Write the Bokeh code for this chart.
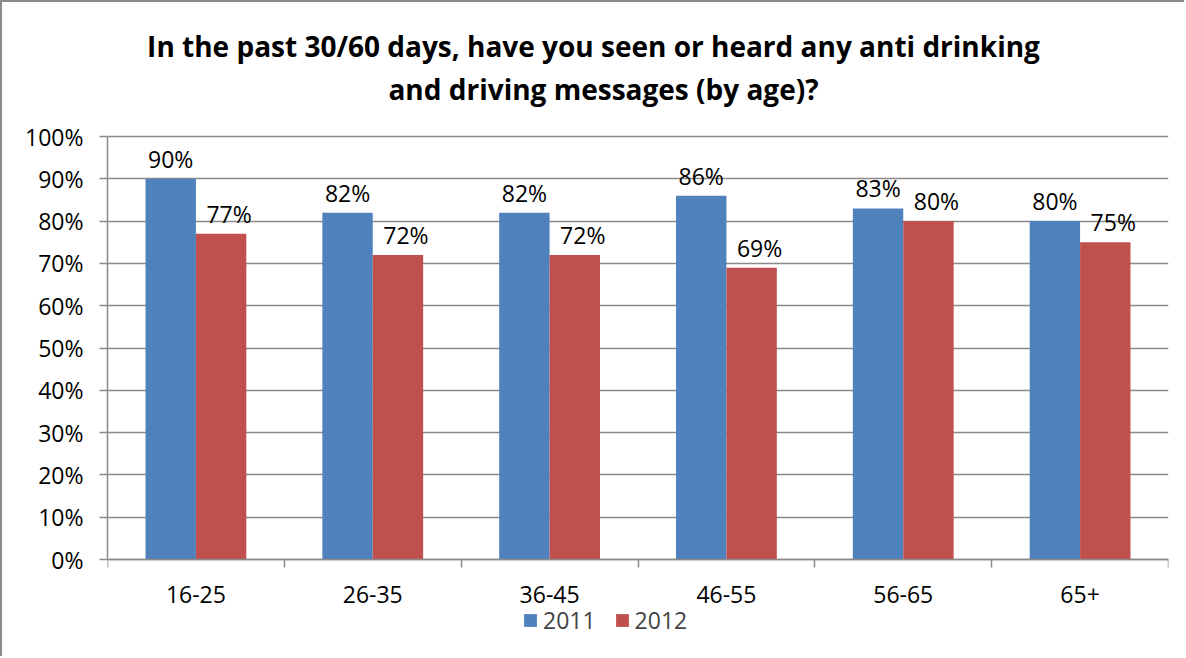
import numpy as np
from bokeh.plotting import figure
from bokeh.models import (FixedTicker, NumeralTickFormatter, Legend, LegendItem,
                          ColumnDataSource, Range1d, Label)
from bokeh.core.properties import value
from bokeh.embed import file_html
from bokeh.resources import INLINE

# ---- data ----
categories = ["16-25", "26-35", "36-45", "46-55", "56-65", "65+"]
series_names = ["2011", "2012"]
values_2011 = [0.90, 0.82, 0.82, 0.86, 0.83, 0.80]
values_2012 = [0.77, 0.72, 0.72, 0.69, 0.80, 0.75]
y_ticks = [0.0, 0.1, 0.2, 0.3, 0.4, 0.5, 0.6, 0.7, 0.8, 0.9, 1.0]
title_line1 = "In the past 30/60 days, have you seen or heard any anti drinking"
title_line2 = "and driving messages (by age)?"

# ---- styles ----
BLUE = "#4F81BD"
RED = "#C0504D"
GRAY = "#8a8a8a"
FONT = "Open Sans"
BAR_W = 0.285
OFF = 0.1425
# frame spans full canvas height; 0..1 occupies 423px
Y_LO, Y_HI = -0.2340, 1.3168

idx = np.arange(len(categories))
src = ColumnDataSource(dict(
    cat=categories,
    x1=idx + 0.5 - OFF,
    x2=idx + 0.5 + OFF,
    v1=values_2011,
    v2=values_2012,
    l1=[f"{round(v*100)}%" for v in values_2011],
    l2=[f"{round(v*100)}%" for v in values_2012],
))

p = figure(width=1184, height=656, output_backend="svg", toolbar_location=None,
           x_range=Range1d(0, len(categories)), y_range=Range1d(Y_LO, Y_HI),
           min_border_left=105, min_border_right=18, min_border_top=0,
           min_border_bottom=0)
p.styles = {"border-left": "2px solid #8c8c8c", "border-top": "2px solid #8c8c8c"}
p.outline_line_color = None
p.background_fill_color = "white"
p.border_fill_color = "white"

r1 = p.vbar(x="x1", top="v1", width=BAR_W, source=src, fill_color=BLUE, line_color=None)
r2 = p.vbar(x="x2", top="v2", width=BAR_W, source=src, fill_color=RED, line_color=None)

p.text(x="x1", y="v1", text="l1", source=src, text_align="center",
       text_baseline="alphabetic", y_offset=-20, text_font=value(FONT),
       text_font_size="23px", text_color="black")
p.text(x="x2", y="v2", text="l2", source=src, text_align="center",
       text_baseline="alphabetic", y_offset=-20, x_offset=8, text_font=value(FONT),
       text_font_size="23px", text_color="black")

# x axis at y=0: labels at centers, ticks at boundaries
p.xaxis.fixed_location = 0
p.xaxis.ticker = FixedTicker(ticks=list(idx + 0.5), minor_ticks=list(range(len(categories) + 1)))
p.xaxis.major_label_overrides = {float(i + 0.5): c for i, c in enumerate(categories)}
p.xaxis.major_tick_out = 0
p.xaxis.major_tick_in = 0
p.xaxis.minor_tick_out = 8
p.xaxis.minor_tick_in = 0
p.xaxis.minor_tick_line_color = GRAY
p.xaxis.minor_tick_line_width = 1.5
p.xaxis.axis_line_color = GRAY
p.xaxis.axis_line_width = 1.5
p.xaxis.major_label_text_font = FONT
p.xaxis.major_label_text_font_size = "23px"
p.xaxis.major_label_text_color = "black"
p.xaxis.major_label_standoff = 18

p.yaxis.bounds = (0, 1)
p.yaxis.ticker = FixedTicker(ticks=y_ticks, minor_ticks=[])
p.yaxis.formatter = NumeralTickFormatter(format="0%")
p.yaxis.major_tick_out = 8
p.yaxis.major_tick_in = 0
p.yaxis.major_tick_line_color = GRAY
p.yaxis.major_tick_line_width = 1.5
p.yaxis.axis_line_color = GRAY
p.yaxis.axis_line_width = 1.5
p.yaxis.major_label_text_font = FONT
p.yaxis.major_label_text_font_size = "23px"
p.yaxis.major_label_text_color = "black"
p.yaxis.major_label_standoff = 16

p.xgrid.visible = False
p.ygrid.grid_line_color = GRAY
p.ygrid.grid_line_width = 1.5

legend = Legend(items=[LegendItem(label=series_names[0], renderers=[r1]),
                       LegendItem(label=series_names[1], renderers=[r2])],
                orientation="horizontal", location=(415, 22),
                padding=0, margin=0, spacing=18, label_standoff=5,
                glyph_width=16, glyph_height=16,
                border_line_color=None, background_fill_alpha=0,
                label_text_font=FONT, label_text_font_size="23px")
p.add_layout(legend)

for txt, sx, sy in [(title_line1, 486, 613), (title_line2, 496, 570)]:
    p.add_layout(Label(x=sx, y=sy, x_units="screen", y_units="screen", text=txt,
                       text_align="center", text_baseline="middle",
                       text_font=FONT, text_font_size="28px", text_font_style="bold",
                       text_color="black"))

open("out.html", "w").write(file_html(p, INLINE))
